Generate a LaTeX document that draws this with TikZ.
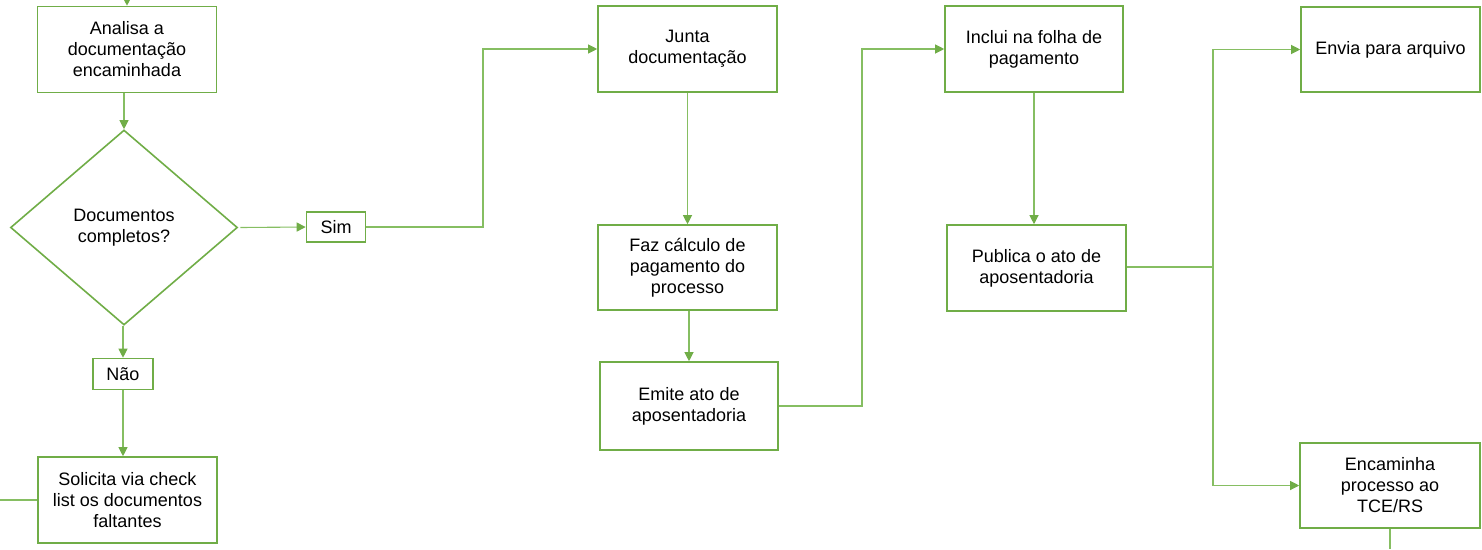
\documentclass[tikz,border=0pt]{standalone}
\usepackage{fontspec}
\setmainfont{Liberation Sans}
\usetikzlibrary{shapes.geometric,arrows.meta}
\definecolor{boxgreen}{HTML}{70AD47}
\definecolor{linegreen}{HTML}{86BE62}
\begin{document}
\begin{tikzpicture}[x=1pt,y=-1pt,
  every node/.style={font=\fontsize{18}{21}\selectfont, text=black},
  box/.style={draw=boxgreen, line width=1.6pt, fill=white, align=center, inner sep=0pt, minimum width=179pt, minimum height=86pt},
  small/.style={draw=boxgreen, line width=1.6pt, fill=white, align=center, inner sep=0pt},
  dec/.style={draw=boxgreen, line width=1.6pt, diamond, align=center, inner sep=0pt, minimum width=227pt, minimum height=195pt},
  conn/.style={draw=linegreen, line width=1.1pt},
  arr/.style={conn, -{Triangle[length=9pt,width=9pt,color=boxgreen]}}
]
\useasboundingbox (0,0) rectangle (1482,549);

\node[box] (A) at (127,49.5) {Analisa a\\documentação\\encaminhada};
\node[dec] (D) at (124,227.5) {Documentos\\completos?};
\node[small, minimum width=59pt, minimum height=30pt] (S) at (336,227) {Sim};
\node[small, minimum width=60pt, minimum height=31pt] (N) at (123,374) {Não};
\node[box] (L) at (127.5,500) {Solicita via check\\list os documentos\\faltantes};
\node[box] (J) at (687.5,49) {Junta\\documentação};
\node[box, minimum height=85pt] (F) at (687.5,267.5) {Faz cálculo de\\pagamento do\\processo};
\node[box, minimum width=178pt, minimum height=88pt] (E) at (689,406) {Emite ato de\\aposentadoria};
\node[box, minimum width=178pt] (I) at (1034,49) {Inclui na folha de\\pagamento};
\node[box] (P) at (1036.5,268) {Publica o ato de\\aposentadoria};
\node[box, minimum height=85pt] (V) at (1390.5,49.5) {Envia para arquivo};
\node[box, minimum width=180pt, minimum height=85pt] (T) at (1390,485.5) {Encaminha\\processo ao\\TCE/RS};

\coordinate (top) at (127,0);
\coordinate (left) at (0,500);
\coordinate (bot) at (1390,549);
\coordinate (k1) at (483,227);
\coordinate (k2) at (862,406);
\coordinate (k3) at (1213,267);

\draw[arr] (top) -- (A.north);
\draw[arr] (A.south -| D.north) -- (D.north);
\draw[arr] ([xshift=2pt]D.east) -- (S.west);
\draw[arr] (S.east) -- (k1) |- (J.west);
\draw[arr] (D.south -| N.north) -- (N.north);
\draw[arr] (N.south) -- (L.north -| N.south);
\draw[conn] (left) -- (L.west);
\draw[arr] (J.south) -- (F.north -| J.south);
\draw[arr] (F.south -| E.north) -- (E.north);
\draw[arr] (E.east) -- (k2) |- (I.west);
\draw[arr] (I.south) -- (P.north -| I.south);
\draw[conn] (P.east |- k3) -- (k3);
\draw[arr] (k3) |- (V.west);
\draw[arr] (k3) |- (T.west);
\draw[conn] (T.south) -- (bot);
\end{tikzpicture}
\end{document}
